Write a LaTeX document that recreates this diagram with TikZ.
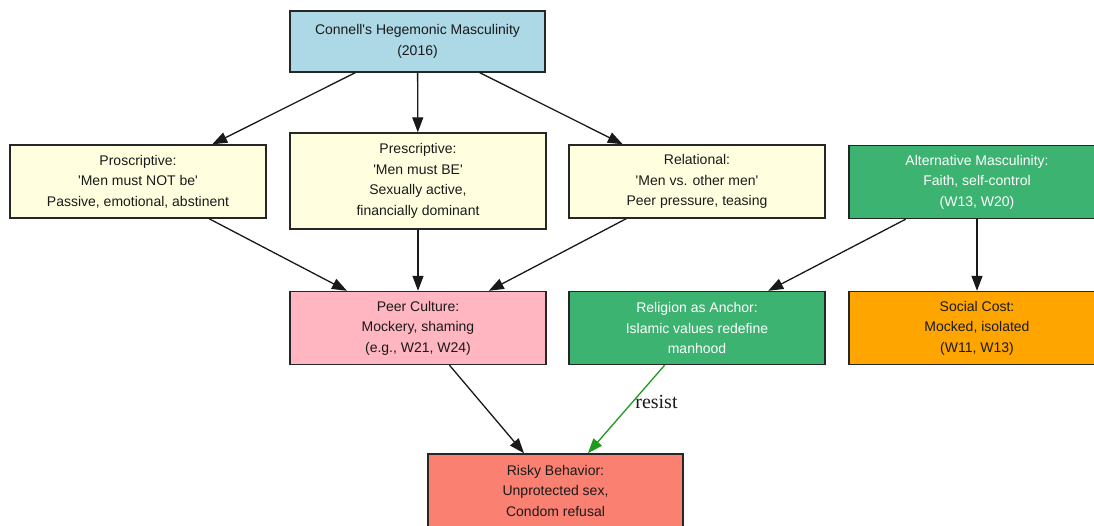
\documentclass[tikz,border=0pt]{standalone}
\usepackage{fontspec}
\setmainfont{Liberation Sans}
\newfontfamily\timesfont{Liberation Serif}
\usetikzlibrary{arrows.meta}
\definecolor{cblue}{HTML}{ADD8E6}
\definecolor{cyellow}{HTML}{FFFFE0}
\definecolor{cgreen}{HTML}{3CB371}
\definecolor{cpink}{HTML}{FFB6C1}
\definecolor{corange}{HTML}{FFA500}
\definecolor{csalmon}{HTML}{FA8072}
\definecolor{ctext}{HTML}{1A1A1A}
\definecolor{carrowgreen}{HTML}{1E9A1E}
\newcommand{\sq}{\textquotesingle}
\begin{document}
\begin{tikzpicture}[x=1pt,y=-1pt,
  box/.style={draw=black!85, line width=1.4pt, minimum width=256pt, minimum height=73pt,
    align=center, text=ctext, font=\fontsize{14}{20.5}\selectfont, inner sep=2pt},
  arr/.style={-{Triangle[length=15pt,width=11pt]}, line width=1.3pt, draw=black!90},
  garr/.style={-{Triangle[length=15pt,width=11pt]}, line width=1.3pt, draw=carrowgreen}]
\useasboundingbox (0,0) rectangle (1094,525);
\clip (0,0) rectangle (1094,525);
\fill[white] (0,0) rectangle (1094,525);

\node[box, fill=cblue, minimum width=255pt, minimum height=61pt] (top) at (417.5,41.5)
  {Connell\sq s Hegemonic Masculinity\\(2016)};

\node[box, fill=cyellow] (pro) at (138,181.5)
  {Proscriptive:\\\sq Men must NOT be\sq\\Passive, emotional, abstinent};
\node[box, fill=cyellow, minimum height=96pt] (pre) at (418,181)
  {Prescriptive:\\\sq Men must BE\sq\\Sexually active,\\financially dominant};
\node[box, fill=cyellow] (rel) at (697,181.5)
  {Relational:\\\sq Men vs. other men\sq\\Peer pressure, teasing};
\node[box, fill=cgreen, text=white] (alt) at (977,182)
  {Alternative Masculinity:\\Faith, self-control\\(W13, W20)};

\node[box, fill=cpink] (peer) at (418,328)
  {Peer Culture:\\Mockery, shaming\\(e.g., W21, W24)};
\node[box, fill=cgreen, text=white] (rel2) at (697,328)
  {Religion as Anchor:\\Islamic values redefine\\manhood};
\node[box, fill=corange] (cost) at (977,328)
  {Social Cost:\\Mocked, isolated\\(W11, W13)};

\node[box, fill=csalmon, minimum width=255pt] (risk) at (555.5,490.5)
  {Risky Behavior:\\Unprotected sex,\\Condom refusal};

\draw[arr] (top) -- (pro);
\draw[arr] (top) -- (pre);
\draw[arr] (top) -- (rel);
\draw[arr] (pro) -- (peer);
\draw[arr] (pre) -- (peer);
\draw[arr] (rel) -- (peer);
\draw[arr] (alt) -- (rel2);
\draw[arr] (alt) -- (cost);
\draw[arr] (peer) -- (risk);
\draw[garr] (rel2) -- (risk) node[pos=0.42, right=-1pt, font=\timesfont\fontsize{20}{22}\selectfont, text=ctext] (lab) {resist};
\end{tikzpicture}
\end{document}
